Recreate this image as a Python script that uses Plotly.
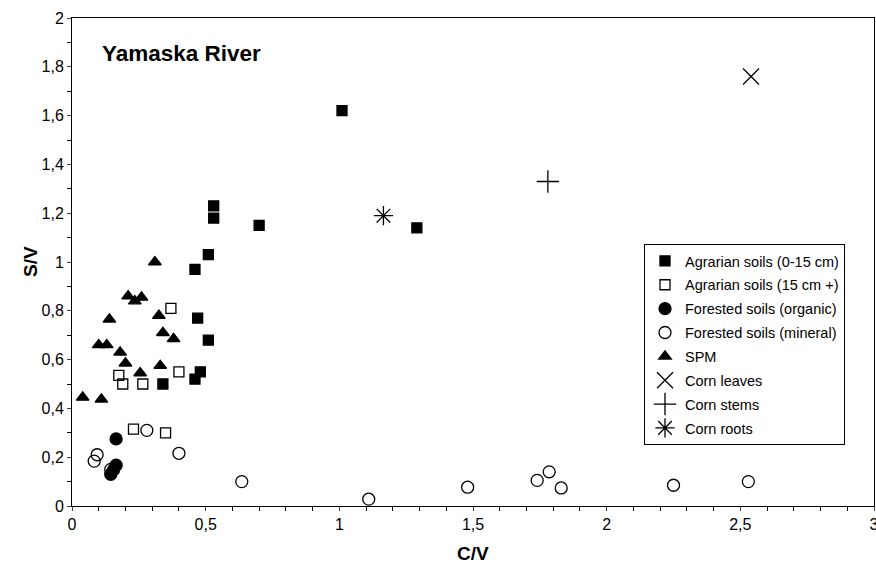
import plotly.graph_objects as go

# Agrarian soils (0-15 cm)
agr_top_x = [0.51, 0.46, 0.47, 0.51, 0.48, 0.46, 0.34, 1.01, 0.53, 0.53, 0.70, 1.29]
agr_top_y = [1.03, 0.97, 0.77, 0.68, 0.55, 0.52, 0.50, 1.62, 1.23, 1.18, 1.15, 1.14]
# Agrarian soils (15 cm +)
agr_deep_x = [0.37, 0.175, 0.19, 0.265, 0.40, 0.23, 0.35]
agr_deep_y = [0.81, 0.535, 0.50, 0.50, 0.55, 0.315, 0.30]
# Forested soils (organic)
for_org_x = [0.165, 0.165, 0.145, 0.155]
for_org_y = [0.275, 0.167, 0.13, 0.148]
# Forested soils (mineral)
for_min_x = [0.28, 0.094, 0.083, 0.40, 0.635, 0.145, 1.11, 1.48, 1.74, 1.785, 1.83, 2.25, 2.53]
for_min_y = [0.31, 0.21, 0.184, 0.216, 0.10, 0.15, 0.028, 0.077, 0.105, 0.14, 0.074, 0.085, 0.10]
# SPM
spm_x = [0.31, 0.21, 0.235, 0.26, 0.14, 0.325, 0.34, 0.38, 0.10, 0.13, 0.18, 0.20, 0.33, 0.255, 0.04, 0.11]
spm_y = [1.00, 0.86, 0.84, 0.855, 0.765, 0.78, 0.71, 0.685, 0.66, 0.66, 0.63, 0.585, 0.575, 0.545, 0.445, 0.437]
# Corn
leaves_x, leaves_y = [2.54], [1.76]
stems_x, stems_y = [1.78], [1.33]
roots_x, roots_y = [1.165], [1.19]

x_ticks = [0, 0.5, 1, 1.5, 2, 2.5, 3]
y_ticks = [0, 0.2, 0.4, 0.6, 0.8, 1, 1.2, 1.4, 1.6, 1.8, 2]

series = [
    ("Agrarian soils (0-15 cm)", agr_top_x, agr_top_y, "square", 10),
    ("Agrarian soils (15 cm +)", agr_deep_x, agr_deep_y, "square-open", 10),
    ("Forested soils (organic)", for_org_x, for_org_y, "circle", 12),
    ("Forested soils (mineral)", for_min_x, for_min_y, "circle-open", 12),
    ("SPM", spm_x, spm_y, "triangle-up", 11),
    ("Corn leaves", leaves_x, leaves_y, "x-thin-open", 16),
    ("Corn stems", stems_x, stems_y, "cross-thin-open", 16),
    ("Corn roots", roots_x, roots_y, "asterisk-open", 16),
]

fig = go.Figure()
for i, (name, xs, ys, sym, sz) in enumerate(series):
    fig.add_trace(go.Scatter(
        x=xs, y=ys, mode="markers", name=name, legendgroup=str(i),
        marker=dict(symbol=sym, size=sz, color="black",
                    line=dict(color="black", width=1.3)),
    ))

W, H = 876, 568
ML, MR, MT, MB = 72, 2, 18, 62
plot_w = W - ML - MR
plot_h = H - MT - MB


def px_x(p):
    return (p - ML) / plot_w


def px_y(p):
    return (H - MB - p) / plot_h


fig.update_layout(
    width=W, height=H,
    margin=dict(l=ML, r=MR, t=MT, b=MB),
    paper_bgcolor="white", plot_bgcolor="white",
    separators=",.",
    font=dict(family="Liberation Sans, Arial, sans-serif", color="black", size=16),
    showlegend=True,
    legend=dict(x=px_x(644), y=px_y(244), xanchor="left", yanchor="top",
                bordercolor="black", borderwidth=1, bgcolor="white",
                font=dict(size=14.5), traceorder="grouped", tracegroupgap=2,
                itemwidth=30),
)
fig.add_annotation(text="<b>Yamaska River</b>", x=px_x(100), y=px_y(54),
                   xref="paper", yref="paper", xanchor="left", yanchor="middle",
                   showarrow=False, font=dict(size=22.5))
fig.add_annotation(text="<b>C/V</b>", x=px_x(473), y=px_y(553),
                   xref="paper", yref="paper", xanchor="center", yanchor="middle",
                   showarrow=False, font=dict(size=19))
fig.add_annotation(text="<b>S/V</b>", x=px_x(30), y=px_y(262),
                   xref="paper", yref="paper", xanchor="center", yanchor="middle",
                   textangle=-90, showarrow=False, font=dict(size=19))

fig.update_xaxes(range=[0, 3], tickvals=x_ticks, ticks="outside", ticklen=4,
                 showline=True, linecolor="black", linewidth=1, mirror=True,
                 showgrid=False, zeroline=False, automargin=False,
                 ticklabeloverflow="allow",
                 minor=dict(dtick=0.1, ticks="outside", ticklen=4, tickcolor="black"))
fig.update_yaxes(range=[0, 2], tickvals=y_ticks, ticks="outside", ticklen=4,
                 showline=True, linecolor="black", linewidth=1, mirror=True,
                 showgrid=False, zeroline=False, automargin=False,
                 ticklabeloverflow="allow",
                 minor=dict(dtick=0.1, ticks="outside", ticklen=4, tickcolor="black"))

fig.write_html("out.html", config={"displayModeBar": False},
               post_script="document.body.style.margin='0';document.body.style.overflow='hidden';")
